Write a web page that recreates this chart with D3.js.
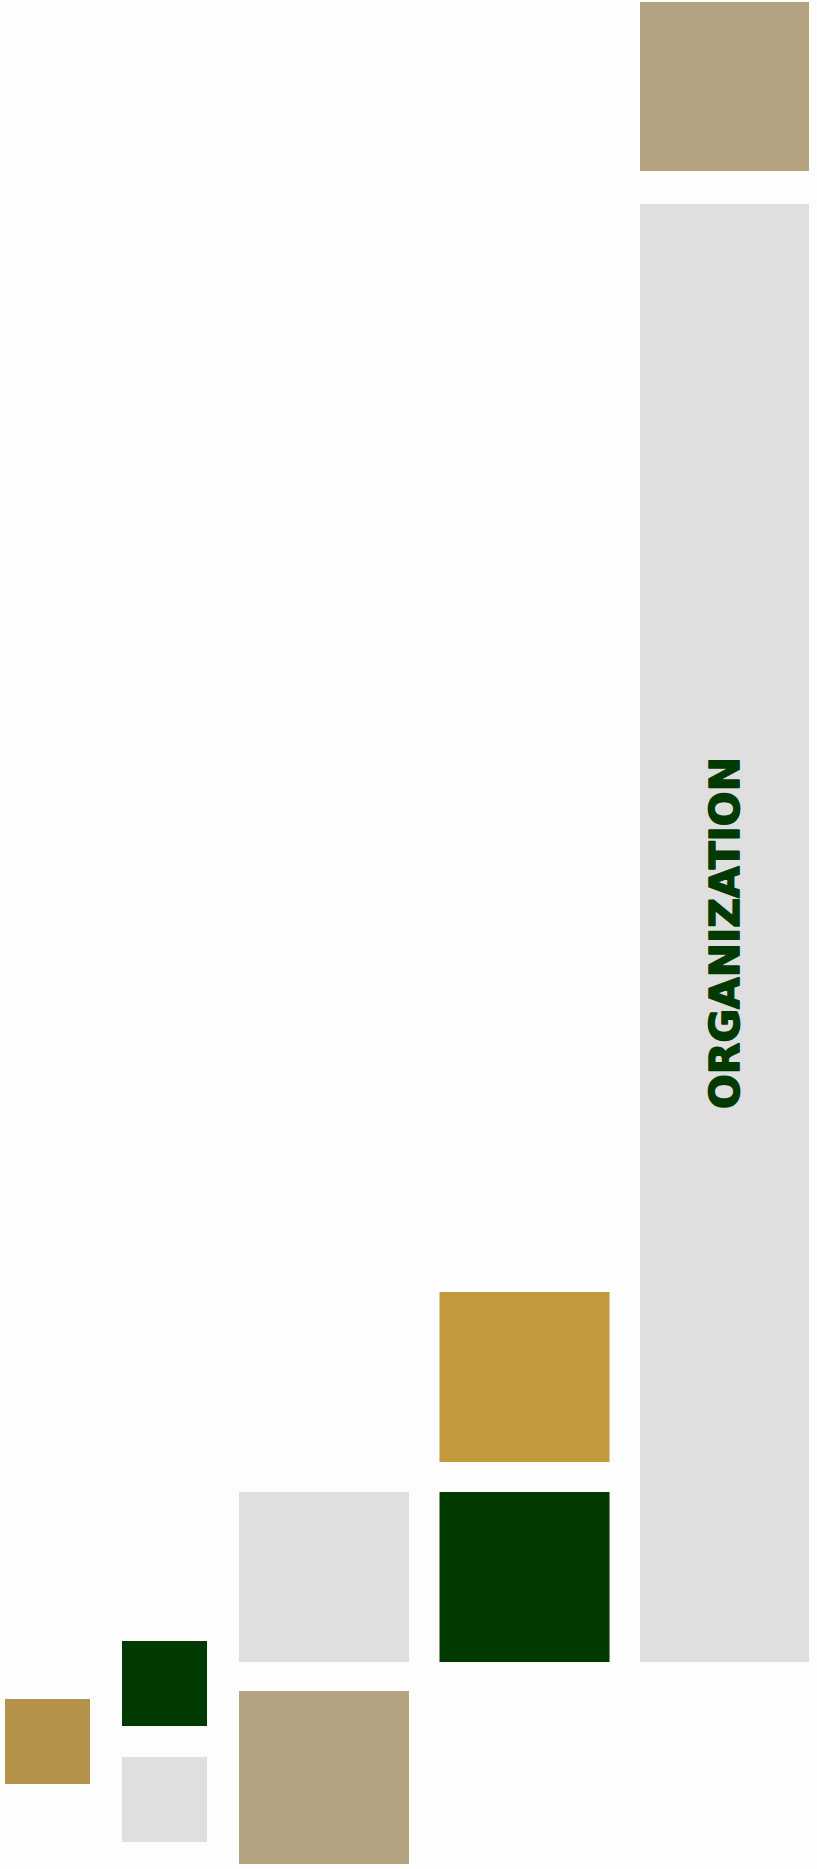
<!DOCTYPE html>
<html>
<head>
<meta charset="utf-8">
<script src="https://cdn.jsdelivr.net/npm/d3@7/dist/d3.min.js"></script>
<style>
  html, body { margin: 0; padding: 0; background: #fdfdfd; }
  svg { display: block; }
</style>
</head>
<body>
<script>
// ---- data (layout grid units: 1 = one large-tile pitch) ----
const tiles   = ["tanTop", "organization", "goldMid", "greenMid", "grayMid", "tanLow", "greenSmall", "graySmall", "goldSmall"];
const tileKind = ["tan", "gray", "gold", "green", "gray", "tan", "green", "gray", "goldDark"];
const tileCol = [2, 2, 1, 1, 0, 0, -0.5835, -0.5835, -1.167];
const tileRow = [-6.45, -5.44, 0, 1, 1, 1.995, 1.745, 2.325, 2.035];
const tileW   = [0.843, 0.843, 0.848, 0.848, 0.848, 0.848, 0.424, 0.424, 0.424];
const tileH   = [0.845, 7.29, 0.85, 0.85, 0.85, 0.865, 0.425, 0.425, 0.425];
const labels  = ["", "ORGANIZATION", "", "", "", "", "", "", ""];

const kinds   = ["tan", "gray", "gold", "green", "goldDark"];
const palette = ["#b3a380", "#dfdfdf", "#c29a3b", "#003a00", "#b5924a"];

const W = 817, H = 1869;
const svg = d3.select("body").append("svg").attr("width", W).attr("height", H);
svg.append("rect").attr("width", W).attr("height", H).attr("fill", "#fdfdfd");

const x = d3.scaleLinear().domain([0, 1]).range([239, 439.5]);
const y = d3.scaleLinear().domain([0, 1]).range([1292, 1492]);
const color = d3.scaleOrdinal().domain(kinds).range(palette);

const data = tiles.map((t, i) => ({
  id: t, kind: tileKind[i], c: tileCol[i], r: tileRow[i], w: tileW[i], h: tileH[i], label: labels[i]
}));

svg.selectAll("rect.tile").data(data).join("rect")
  .attr("class", "tile")
  .attr("x", d => x(d.c))
  .attr("y", d => y(d.r))
  .attr("width", d => x(d.c + d.w) - x(d.c))
  .attr("height", d => y(d.r + d.h) - y(d.r))
  .attr("fill", d => color(d.kind));

svg.selectAll("text.lbl").data(data.filter(d => d.label)).join("text")
  .attr("class", "lbl")
  .attr("transform", d => {
    const cx = (x(d.c) + x(d.c + d.w)) / 2;
    const cy = (y(d.r) + y(d.r + d.h)) / 2;
    return `translate(${cx},${cy}) rotate(-90)`;
  })
  .attr("text-anchor", "middle")
  .attr("dominant-baseline", "central")
  .attr("font-family", "DejaVu Sans, Verdana, sans-serif")
  .attr("font-weight", "bold")
  .attr("font-size", 41)
  .attr("fill", "#003a00")
  .attr("stroke", "#003a00")
  .attr("stroke-width", 1.6)
  .attr("stroke-linejoin", "round")
  .text(d => d.label);
</script>
</body>
</html>
